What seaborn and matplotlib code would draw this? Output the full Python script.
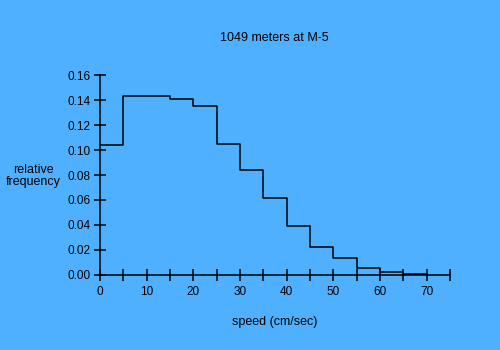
import matplotlib
matplotlib.use("Agg")
import matplotlib.pyplot as plt
import seaborn as sns
import numpy as np
import pandas as pd

# Relative frequency of current speed, 5 cm/sec bins
bin_left = [0, 5, 10, 15, 20, 25, 30, 35, 40, 45, 50, 55, 60, 65]
rel_freq = [0.104, 0.143, 0.143, 0.1405, 0.135, 0.105, 0.084, 0.0615,
            0.039, 0.022, 0.0133, 0.0053, 0.0024, 0.0005]
bin_edges = list(range(0, 75, 5))
x_ticks = list(range(0, 80, 10))
x_minor = list(range(5, 80, 10))
y_ticks = [0.00, 0.02, 0.04, 0.06, 0.08, 0.10, 0.12, 0.14, 0.16]

bg = "#4FB0FF"
sns.set_theme(style="ticks")
plt.rcParams["font.family"] = ["Liberation Sans", "DejaVu Sans"]

fig = plt.figure(figsize=(5, 3.5), dpi=100, facecolor=bg)
ax = fig.add_axes([0.2, 0.2143, 0.7, 0.5714], facecolor=bg)

df = pd.DataFrame({"speed": bin_left, "freq": rel_freq})
sns.histplot(data=df, x="speed", weights="freq", bins=bin_edges,
             element="step", fill=False, color="black", linewidth=1.1, ax=ax)

ax.set_xlim(0, 75)
ax.set_ylim(0, 0.16)
ax.set_xticks(x_ticks)
ax.set_xticks(x_minor, minor=True)
ax.set_yticks(y_ticks)
ax.set_yticklabels([f"{v:.2f}" for v in y_ticks])
for s in ["top", "right"]:
    ax.spines[s].set_visible(False)
for s in ["left", "bottom"]:
    ax.spines[s].set_color("black")
    ax.spines[s].set_linewidth(1.1)
ax.tick_params(axis="both", which="both", direction="inout", length=8,
               width=1.1, color="black", labelsize=8.5, labelcolor="black")
ax.tick_params(axis="y", pad=2.5)
ax.tick_params(axis="x", pad=4)
ax.tick_params(axis="x", which="minor", labelbottom=False)

ax.set_xlabel("speed (cm/sec)", fontsize=9, color="black", labelpad=13)
ax.set_ylabel("")
fig.text(0.066, 0.497, "relative\nfrequency", ha="center", va="center",
         fontsize=9, color="black", linespacing=1.0)
fig.text(0.548, 0.891, "1049 meters at M-5", ha="center", va="center",
         fontsize=9, color="black")

fig.savefig("out.png", dpi=100, facecolor=bg)
